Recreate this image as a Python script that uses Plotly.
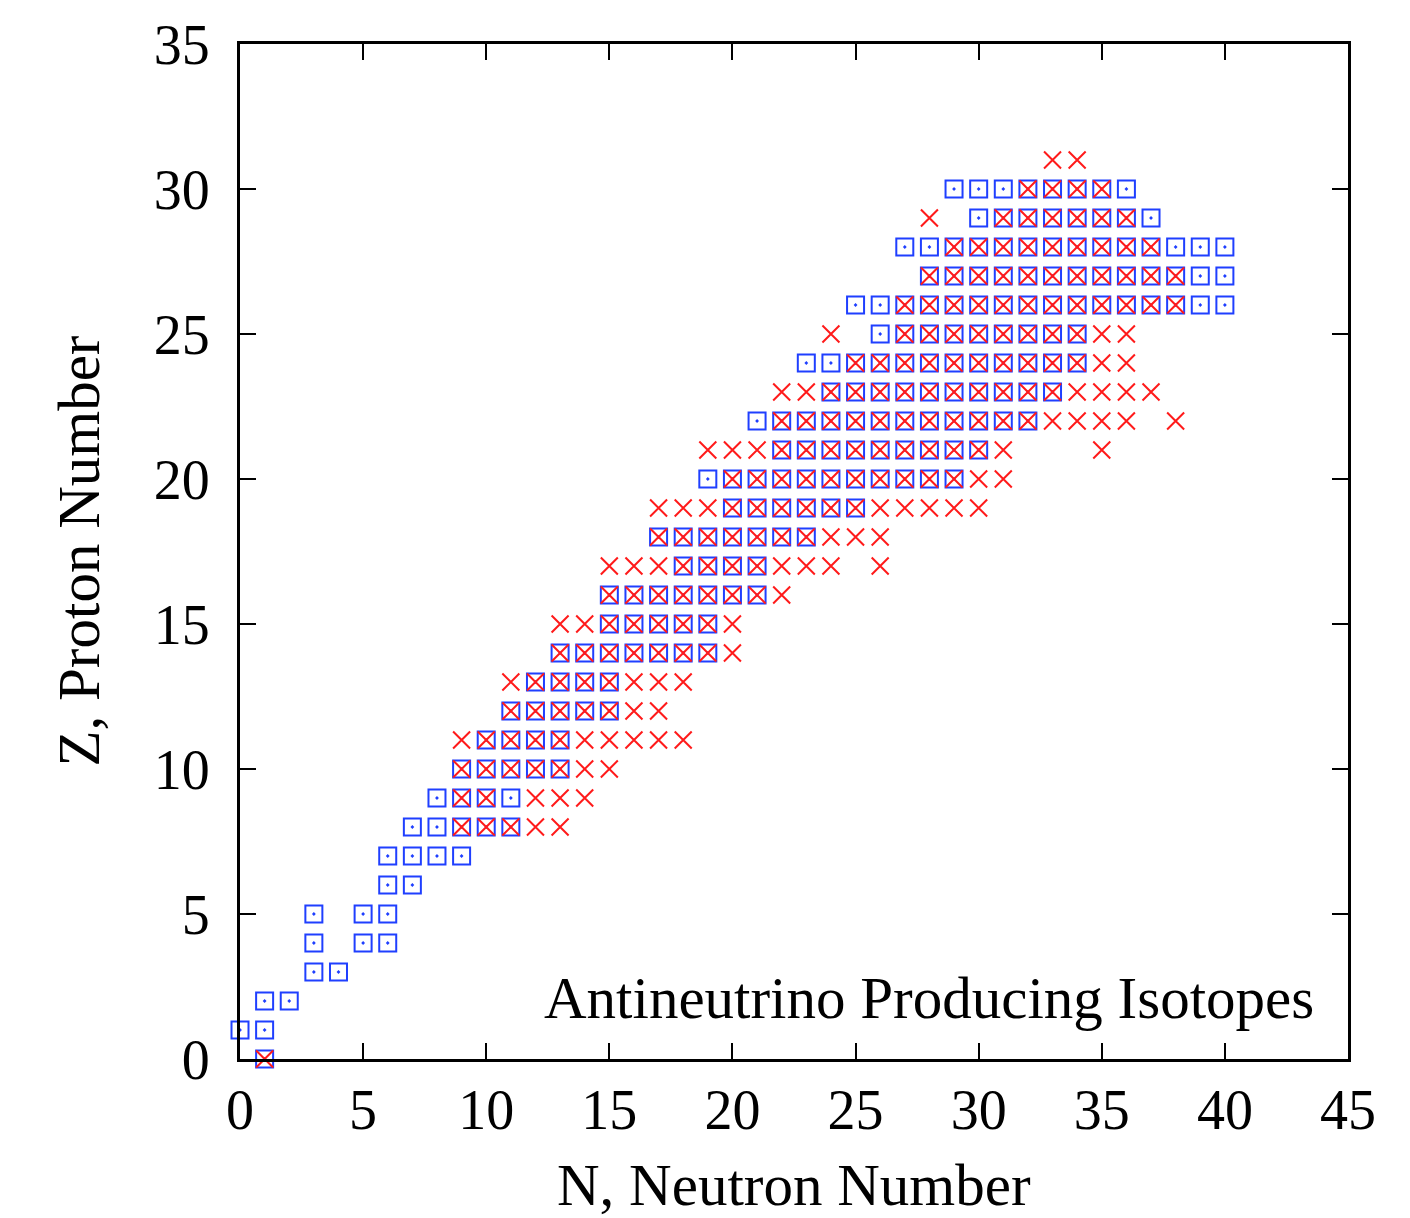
import plotly.graph_objects as go

# Isotopes flagged by the two selections, as (N, Z) pairs listed row by row in Z.
box_n = [
    1,
    0, 1,
    1, 2,
    3, 4,
    3, 5, 6,
    3, 5, 6,
    6, 7,
    6, 7, 8, 9,
    7, 8, 9, 10, 11,
    8, 9, 10, 11,
    9, 10, 11, 12, 13,
    10, 11, 12, 13,
    11, 12, 13, 14, 15,
    12, 13, 14, 15,
    13, 14, 15, 16, 17, 18, 19,
    15, 16, 17, 18, 19,
    15, 16, 17, 18, 19, 20, 21,
    18, 19, 20, 21,
    17, 18, 19, 20, 21, 22, 23,
    20, 21, 22, 23, 24, 25,
    19, 20, 21, 22, 23, 24, 25, 26, 27, 28, 29,
    22, 23, 24, 25, 26, 27, 28, 29, 30,
    21, 22, 23, 24, 25, 26, 27, 28, 29, 30, 31, 32,
    24, 25, 26, 27, 28, 29, 30, 31, 32, 33,
    23, 24, 25, 26, 27, 28, 29, 30, 31, 32, 33, 34,
    26, 27, 28, 29, 30, 31, 32, 33, 34,
    25, 26, 27, 28, 29, 30, 31, 32, 33, 34, 35, 36, 37, 38, 39, 40,
    28, 29, 30, 31, 32, 33, 34, 35, 36, 37, 38, 39, 40,
    27, 28, 29, 30, 31, 32, 33, 34, 35, 36, 37, 38, 39, 40,
    30, 31, 32, 33, 34, 35, 36, 37,
    29, 30, 31, 32, 33, 34, 35, 36,
]
box_z = [
    0,
    1, 1,
    2, 2,
    3, 3,
    4, 4, 4,
    5, 5, 5,
    6, 6,
    7, 7, 7, 7,
    8, 8, 8, 8, 8,
    9, 9, 9, 9,
    10, 10, 10, 10, 10,
    11, 11, 11, 11,
    12, 12, 12, 12, 12,
    13, 13, 13, 13,
    14, 14, 14, 14, 14, 14, 14,
    15, 15, 15, 15, 15,
    16, 16, 16, 16, 16, 16, 16,
    17, 17, 17, 17,
    18, 18, 18, 18, 18, 18, 18,
    19, 19, 19, 19, 19, 19,
    20, 20, 20, 20, 20, 20, 20, 20, 20, 20, 20,
    21, 21, 21, 21, 21, 21, 21, 21, 21,
    22, 22, 22, 22, 22, 22, 22, 22, 22, 22, 22, 22,
    23, 23, 23, 23, 23, 23, 23, 23, 23, 23,
    24, 24, 24, 24, 24, 24, 24, 24, 24, 24, 24, 24,
    25, 25, 25, 25, 25, 25, 25, 25, 25,
    26, 26, 26, 26, 26, 26, 26, 26, 26, 26, 26, 26, 26, 26, 26, 26,
    27, 27, 27, 27, 27, 27, 27, 27, 27, 27, 27, 27, 27,
    28, 28, 28, 28, 28, 28, 28, 28, 28, 28, 28, 28, 28, 28,
    29, 29, 29, 29, 29, 29, 29, 29,
    30, 30, 30, 30, 30, 30, 30, 30,
]

cross_n = [
    1,
    9, 10, 11, 12, 13,
    9, 10, 12, 13, 14,
    9, 10, 11, 12, 13, 14, 15,
    9, 10, 11, 12, 13, 14, 15, 16, 17, 18,
    11, 12, 13, 14, 15, 16, 17,
    11, 12, 13, 14, 15, 16, 17, 18,
    13, 14, 15, 16, 17, 18, 19, 20,
    13, 14, 15, 16, 17, 18, 19, 20,
    15, 16, 17, 18, 19, 20, 21, 22,
    15, 16, 17, 18, 19, 20, 21, 22, 23, 24, 26,
    17, 18, 19, 20, 21, 22, 23, 24, 25, 26,
    17, 18, 19, 20, 21, 22, 23, 24, 25, 26, 27, 28, 29, 30,
    20, 21, 22, 23, 24, 25, 26, 27, 28, 29, 30, 31,
    19, 20, 21, 22, 23, 24, 25, 26, 27, 28, 29, 30, 31, 35,
    22, 23, 24, 25, 26, 27, 28, 29, 30, 31, 32, 33, 34, 35, 36, 38,
    22, 23, 24, 25, 26, 27, 28, 29, 30, 31, 32, 33, 34, 35, 36, 37,
    25, 26, 27, 28, 29, 30, 31, 32, 33, 34, 35, 36,
    24, 27, 28, 29, 30, 31, 32, 33, 34, 35, 36,
    27, 28, 29, 30, 31, 32, 33, 34, 35, 36, 37, 38,
    28, 29, 30, 31, 32, 33, 34, 35, 36, 37, 38,
    29, 30, 31, 32, 33, 34, 35, 36, 37,
    28, 31, 32, 33, 34, 35, 36,
    32, 33, 34, 35,
    33, 34,
]
cross_z = [
    0,
    8, 8, 8, 8, 8,
    9, 9, 9, 9, 9,
    10, 10, 10, 10, 10, 10, 10,
    11, 11, 11, 11, 11, 11, 11, 11, 11, 11,
    12, 12, 12, 12, 12, 12, 12,
    13, 13, 13, 13, 13, 13, 13, 13,
    14, 14, 14, 14, 14, 14, 14, 14,
    15, 15, 15, 15, 15, 15, 15, 15,
    16, 16, 16, 16, 16, 16, 16, 16,
    17, 17, 17, 17, 17, 17, 17, 17, 17, 17, 17,
    18, 18, 18, 18, 18, 18, 18, 18, 18, 18,
    19, 19, 19, 19, 19, 19, 19, 19, 19, 19, 19, 19, 19, 19,
    20, 20, 20, 20, 20, 20, 20, 20, 20, 20, 20, 20,
    21, 21, 21, 21, 21, 21, 21, 21, 21, 21, 21, 21, 21, 21,
    22, 22, 22, 22, 22, 22, 22, 22, 22, 22, 22, 22, 22, 22, 22, 22,
    23, 23, 23, 23, 23, 23, 23, 23, 23, 23, 23, 23, 23, 23, 23, 23,
    24, 24, 24, 24, 24, 24, 24, 24, 24, 24, 24, 24,
    25, 25, 25, 25, 25, 25, 25, 25, 25, 25, 25,
    26, 26, 26, 26, 26, 26, 26, 26, 26, 26, 26, 26,
    27, 27, 27, 27, 27, 27, 27, 27, 27, 27, 27,
    28, 28, 28, 28, 28, 28, 28, 28, 28,
    29, 29, 29, 29, 29, 29, 29,
    30, 30, 30, 30,
    31, 31,
]

x_ticks = [0, 5, 10, 15, 20, 25, 30, 35, 40, 45]
y_ticks = [0, 5, 10, 15, 20, 25, 30, 35]

FONT = "Liberation Serif"
TICK_FS = 56
TITLE_FS = 59

fig = go.Figure()
fig.add_trace(go.Scatter(
    x=box_n, y=box_z, mode="markers", cliponaxis=False, showlegend=False,
    marker=dict(symbol="square-open-dot", size=17, color="#1f3fff",
                line=dict(width=2, color="#1f3fff")),
))
fig.add_trace(go.Scatter(
    x=cross_n, y=cross_z, mode="markers", cliponaxis=False, showlegend=False,
    marker=dict(symbol="x-thin-open", size=17, color="#ff1a1a",
                line=dict(width=2, color="#ff1a1a")),
))

axis_style = dict(
    showline=True, linecolor="black", linewidth=3, mirror="ticks",
    ticks="inside", ticklen=16, tickwidth=2, tickcolor="black",
    showgrid=False, zeroline=False,
    tickfont=dict(family=FONT, size=TICK_FS, color="black"),
)

fig.update_xaxes(range=[0, 45], tickvals=x_ticks, ticklabelstandoff=0, **axis_style)
fig.update_yaxes(range=[0, 35], tickvals=y_ticks, ticklabelstandoff=16, **axis_style)

title_font = dict(family=FONT, size=TITLE_FS, color="black")
fig.update_layout(
    width=1410, height=1218,
    margin=dict(l=240, r=62, t=44, b=159),
    paper_bgcolor="white", plot_bgcolor="white",
    annotations=[
        dict(text="N, Neutron Number", xref="paper", yref="paper",
             x=0.5, y=-0.124, xanchor="center", yanchor="middle",
             showarrow=False, font=title_font),
        dict(text="Z, Proton Number", xref="paper", yref="paper",
             x=-0.1462, y=0.5, xanchor="center", yanchor="middle", textangle=-90,
             showarrow=False, font=title_font),
        dict(text="Antineutrino Producing Isotopes", xref="paper", yref="paper",
             x=0.971, y=0.060, xanchor="right", yanchor="middle",
             showarrow=False, font=title_font),
    ],
)

fig.write_html("out.html")
